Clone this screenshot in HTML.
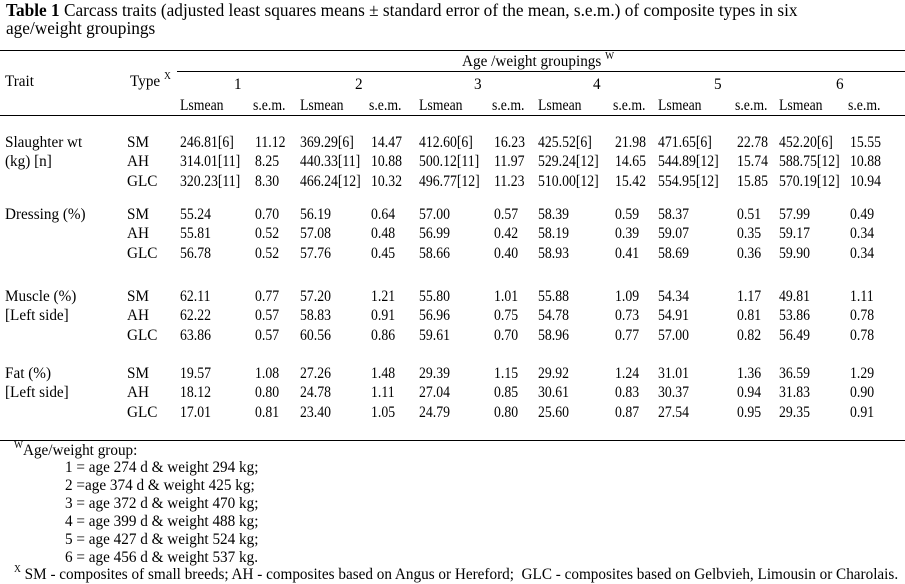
<!DOCTYPE html>
<html><head><meta charset="utf-8"><style>
body{margin:0;background:#fff;}
#t{position:relative;width:905px;height:584px;overflow:hidden;font-family:"Liberation Serif",serif;font-size:16px;color:#000;}
#t div{position:absolute;white-space:nowrap;line-height:16px;transform:scaleX(0.95);transform-origin:left center;}
#t div.ttl{font-size:18px;line-height:18px;transform:scaleX(0.96);}
#t div.cell{transform:scaleX(0.86);}
.ln{height:1px;background:#000;transform:none!important;}
sup{font-size:10px;vertical-align:7px;line-height:0;}
</style></head><body>
<div id="t">
<div class="ttl" style="left:6px;top:1px"><b>Table 1</b> Carcass traits (adjusted least squares means ± standard error of the mean, s.e.m.) of composite types in six</div>
<div class="ttl" style="left:6px;top:19px">age/weight groupings</div>
<div class="ln" style="left:0;top:50px;width:905px"></div>
<div class="ln" style="left:177px;top:71px;width:728px"></div>
<div class="ln" style="left:0;top:115px;width:905px"></div>
<div class="ln" style="left:0;top:440px;width:905px"></div>
<div style="left:462px;top:54px">Age /weight groupings <sup>W</sup></div>
<div style="left:5px;top:74px">Trait</div>
<div style="left:130px;top:74px">Type <sup>X</sup></div>
<div style="left:14px;top:443px"><sup>W</sup>Age/weight group:</div>
<div style="left:65px;top:460px">1 = age 274 d &amp; weight 294 kg;</div>
<div style="left:65px;top:478px">2 =age 374 d &amp; weight 425 kg;</div>
<div style="left:65px;top:496px">3 = age 372 d &amp; weight 470 kg;</div>
<div style="left:65px;top:514px">4 = age 399 d &amp; weight 488 kg;</div>
<div style="left:65px;top:532px">5 = age 427 d &amp; weight 524 kg;</div>
<div style="left:65px;top:550px">6 = age 456 d &amp; weight 537 kg.</div>
<div style="left:14px;top:567px"><sup>X</sup> SM - composites of small breeds; AH - composites based on Angus or Hereford;&nbsp; GLC - composites based on Gelbvieh, Limousin or Charolais.</div>
</div>
<script>
const groups=["1","2","3","4","5","6"];
const types=["SM","AH","GLC"];
const traits=[["Slaughter wt","(kg)  [n]"],["Dressing (%)",""],["Muscle (%)","[Left side]"],["Fat (%)","[Left side]"]];
const lsmean=[
[["246.81[6]","369.29[6]","412.60[6]","425.52[6]","471.65[6]","452.20[6]"],["314.01[11]","440.33[11]","500.12[11]","529.24[12]","544.89[12]","588.75[12]"],["320.23[11]","466.24[12]","496.77[12]","510.00[12]","554.95[12]","570.19[12]"]],
[["55.24","56.19","57.00","58.39","58.37","57.99"],["55.81","57.08","56.99","58.19","59.07","59.17"],["56.78","57.76","58.66","58.93","58.69","59.90"]],
[["62.11","57.20","55.80","55.88","54.34","49.81"],["62.22","58.83","56.96","54.78","54.91","53.86"],["63.86","60.56","59.61","58.96","57.00","56.49"]],
[["19.57","27.26","29.39","29.92","31.01","36.59"],["18.12","24.78","27.04","30.61","30.37","31.83"],["17.01","23.40","24.79","25.60","27.54","29.35"]]];
const sem=[
[["11.12","14.47","16.23","21.98","22.78","15.55"],["8.25","10.88","11.97","14.65","15.74","10.88"],["8.30","10.32","11.23","15.42","15.85","10.94"]],
[["0.70","0.64","0.57","0.59","0.51","0.49"],["0.52","0.48","0.42","0.39","0.35","0.34"],["0.52","0.45","0.40","0.41","0.36","0.34"]],
[["0.77","1.21","1.01","1.09","1.17","1.11"],["0.57","0.91","0.75","0.73","0.81","0.78"],["0.57","0.86","0.70","0.77","0.82","0.78"]],
[["1.08","1.48","1.15","1.24","1.36","1.29"],["0.80","1.11","0.85","0.83","0.94","0.90"],["0.81","1.05","0.80","0.87","0.95","0.91"]]];
const lsX=[180,300,419,538,658,779], semX=[255,371,494,615,737,850], numX=[237,358,477,596,717,839];
const rowY=[[143,162,182],[215,234,254],[297,316,336],[374,393,413]];
const T=document.getElementById('t');
function add(txt,x,y,name,cls){const d=document.createElement('div');d.textContent=txt;d.style.left=x+'px';d.style.top=(y-8)+'px';
if(cls)d.className=cls;


T.appendChild(d);return d;}
groups.forEach((g,i)=>{add(g,numX[i]-3,85,'group-number-'+g);add('Lsmean',lsX[i],106,'lsmean-header-'+g,'cell');add('s.e.m.',semX[i]-2,106,'sem-header-'+g,'cell');});
traits.forEach((tr,ti)=>{
 add(tr[0],5,rowY[ti][0],'trait-label');
 if(tr[1])add(tr[1],5,rowY[ti][1],'trait-sublabel');
 types.forEach((ty,ri)=>{const y=rowY[ti][ri];
  add(ty,127,y,'type-label');
  for(let g=0;g<6;g++){add(lsmean[ti][ri][g],lsX[g],y,'lsmean-cell','cell');add(sem[ti][ri][g],semX[g],y,'sem-cell','cell');}
 });
});
</script>
</body></html>
